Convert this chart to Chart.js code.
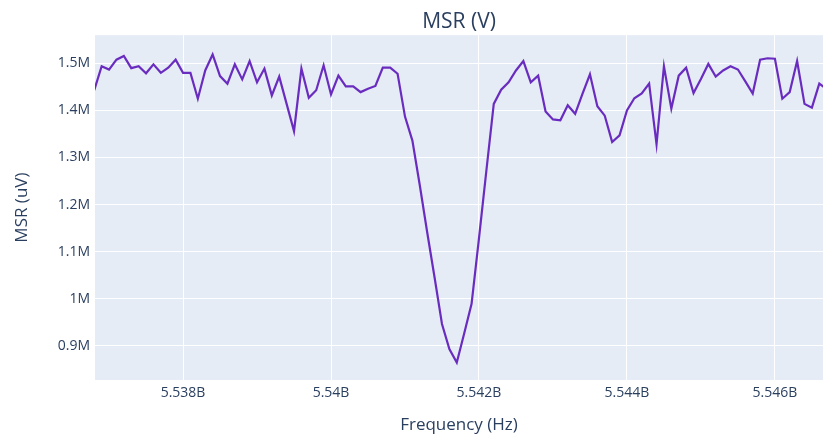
<!DOCTYPE html>
<html>
<head>
<meta charset="utf-8">
<script src="https://cdn.jsdelivr.net/npm/chart.js@4.4.1/dist/chart.umd.min.js"></script>
<style>
    html, body { margin: 0; padding: 0; background: #fff; }
    canvas { display: block; }
</style>
</head>
<body>
<canvas id="chartMsr" width="823" height="435"></canvas>
<script>
// frequency in MHz (shown as Hz on the axis)
const frequencies = [
    5536.8, 5536.9, 5537.0, 5537.1, 5537.2, 5537.3, 5537.4, 5537.5, 5537.6, 5537.7,
    5537.8, 5537.9, 5538.0, 5538.1, 5538.2, 5538.3, 5538.4, 5538.5, 5538.6, 5538.7,
    5538.8, 5538.9, 5539.0, 5539.1, 5539.2, 5539.3, 5539.4, 5539.5, 5539.6, 5539.7,
    5539.8, 5539.9, 5540.0, 5540.1, 5540.2, 5540.3, 5540.4, 5540.5, 5540.6, 5540.7,
    5540.8, 5540.9, 5541.0, 5541.1, 5541.2, 5541.3, 5541.4, 5541.5, 5541.6, 5541.7,
    5541.8, 5541.9, 5542.0, 5542.1, 5542.2, 5542.3, 5542.4, 5542.5, 5542.6, 5542.7,
    5542.8, 5542.9, 5543.0, 5543.1, 5543.2, 5543.3, 5543.4, 5543.5, 5543.6, 5543.7,
    5543.8, 5543.9, 5544.0, 5544.1, 5544.2, 5544.3, 5544.4, 5544.5, 5544.6, 5544.7,
    5544.8, 5544.9, 5545.0, 5545.1, 5545.2, 5545.3, 5545.4, 5545.5, 5545.6, 5545.7,
    5545.8, 5545.9, 5546.0, 5546.1, 5546.2, 5546.3, 5546.4, 5546.5, 5546.6, 5546.7
];

// MSR in uV
const msrValues = [
    1443000, 1494000, 1487000, 1508000, 1516000, 1490000, 1494000, 1479000, 1498000, 1480000,
    1491000, 1508000, 1480000, 1480000, 1425000, 1485000, 1519000, 1473000, 1457000, 1498000,
    1466000, 1505000, 1460000, 1489000, 1432000, 1472000, 1414000, 1356000, 1489000, 1427000,
    1443000, 1496000, 1434000, 1474000, 1451000, 1451000, 1439000, 1446000, 1452000, 1491000,
    1491000, 1478000, 1387000, 1336000, 1241000, 1141000, 1045000, 946000, 893000, 864000,
    926000, 989000, 1128000, 1272000, 1414000, 1444000, 1460000, 1485000, 1505000, 1460000,
    1474000, 1398000, 1381000, 1379000, 1411000, 1393000, 1436000, 1477000, 1409000, 1389000,
    1333000, 1347000, 1400000, 1426000, 1436000, 1457000, 1328000, 1494000, 1404000, 1474000,
    1491000, 1437000, 1467000, 1499000, 1472000, 1485000, 1494000, 1487000, 1462000, 1436000,
    1508000, 1511000, 1510000, 1425000, 1439000, 1505000, 1414000, 1406000, 1457000, 1445000
];

const xTicks = [5538, 5540, 5542, 5544, 5546];
const yTicks = [900000, 1000000, 1100000, 1200000, 1300000, 1400000, 1500000];

const textColor = '#2a3f5f';
const fontFamily = '"Open Sans", "Liberation Sans", sans-serif';

const plotBackground = {
    id: 'plotBackground',
    beforeDraw(chart) {
        const { ctx, chartArea } = chart;
        ctx.save();
        ctx.fillStyle = '#E5ECF6';
        ctx.fillRect(chartArea.left, chartArea.top, chartArea.right - chartArea.left, chartArea.bottom - chartArea.top);
        ctx.restore();
    }
};

new Chart(document.getElementById('chartMsr'), {
    type: 'line',
    data: {
        datasets: [{
            data: frequencies.map((f, i) => ({ x: f, y: msrValues[i] })),
            borderColor: '#6a2cbf',
            borderWidth: 2.2,
            pointRadius: 0,
            pointHoverRadius: 0,
            tension: 0,
            fill: false,
            clip: 0
        }]
    },
    options: {
        responsive: false,
        animation: false,
        layout: {
            padding: 0
        },
        plugins: {
            legend: {
                display: false
            },
            tooltip: {
                enabled: false
            },
            title: {
                display: true,
                fullSize: false,
                text: 'MSR (V)',
                color: textColor,
                font: { family: fontFamily, size: 21, weight: 'normal' },
                padding: { top: 9, bottom: 1 }
            }
        },
        scales: {
            x: {
                type: 'linear',
                min: 5536.81,
                max: 5546.65,
                afterFit: scale => { scale.height = 55; },
                afterBuildTicks: scale => { scale.ticks = xTicks.map(v => ({ value: v })); },
                grid: {
                    color: '#ffffff',
                    lineWidth: 1,
                    drawTicks: false
                },
                border: {
                    display: false
                },
                ticks: {
                    color: textColor,
                    font: { family: fontFamily, size: 14 },
                    padding: 5,
                    maxRotation: 0,
                    callback: v => (v / 1000) + 'B'
                },
                title: {
                    display: true,
                    text: 'Frequency (Hz)',
                    color: textColor,
                    font: { family: fontFamily, size: 17 },
                    padding: { top: 0, bottom: 0 }
                }
            },
            y: {
                type: 'linear',
                min: 827000,
                max: 1560000,
                afterFit: scale => { scale.width = 95; },
                afterBuildTicks: scale => { scale.ticks = yTicks.map(v => ({ value: v })); },
                grid: {
                    color: '#ffffff',
                    lineWidth: 1,
                    drawTicks: false
                },
                border: {
                    display: false
                },
                ticks: {
                    color: textColor,
                    font: { family: fontFamily, size: 14 },
                    padding: 5,
                    callback: v => (v / 1000000) + 'M'
                },
                title: {
                    display: true,
                    text: 'MSR (uV)',
                    color: textColor,
                    font: { family: fontFamily, size: 17 },
                    padding: { top: 12, bottom: 0 }
                }
            }
        }
    },
    plugins: [plotBackground]
});
</script>
</body>
</html>
